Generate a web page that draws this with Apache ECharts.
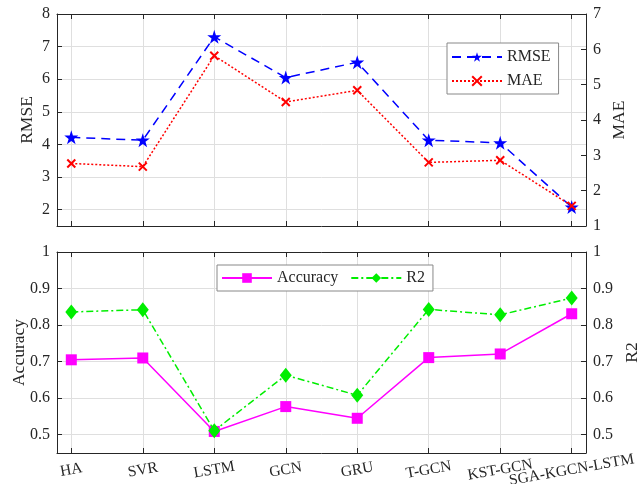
<!DOCTYPE html>
<html>
<head>
<meta charset="utf-8">
<script src="https://cdn.jsdelivr.net/npm/echarts@6/dist/echarts.min.js"></script>
<style>
  html, body { margin: 0; padding: 0; background: #fff; }
  #chart { width: 638px; height: 484px; }
</style>
</head>
<body>
<div id="chart"></div>
<script>
// Models compared
const models = ['HA', 'SVR', 'LSTM', 'GCN', 'GRU', 'T-GCN', 'KST-GCN', 'SGA-KGCN-LSTM'];

// Error metrics (upper panel)
const rmse = [4.22, 4.13, 7.30, 6.05, 6.52, 4.13, 4.05, 2.08];
const mae = [2.77, 2.68, 5.82, 4.51, 4.84, 2.80, 2.86, 1.57];

// Fit metrics (lower panel)
const accuracy = [0.705, 0.710, 0.509, 0.577, 0.545, 0.711, 0.721, 0.831];
const r2 = [0.836, 0.842, 0.511, 0.663, 0.608, 0.843, 0.828, 0.874];

// Tick values
const xTicks = [0, 1, 2, 3, 4, 5, 6, 7];
const rmseTicks = [2, 3, 4, 5, 6, 7, 8];
const ratioTicks = [0.5, 0.6, 0.7, 0.8, 0.9, 1];

const FONT = 'Liberation Serif';
const AXIS = '#262626';
const GRIDC = '#dfdfdf';
const STAR = 'path://M50,0 L61.2,34.5 L97.6,34.5 L68.2,55.9 L79.4,90.5 L50,69.1 L20.6,90.5 L31.8,55.9 L2.4,34.5 L38.8,34.5 Z';
const CROSS = 'path://M0,0 L10,10 M10,0 L0,10';

const pairs = arr => arr.map((v, i) => [i, v]);

function xAxisFor(gridIndex, pos, labelValues) {
  const withLabels = !!labelValues;
  return {
    type: 'value', gridIndex, position: pos, min: -0.2, max: 7.2,
    axisLine: { show: true, onZero: false, lineStyle: { color: AXIS, width: 1 } },
    axisTick: { show: true, inside: true, length: 5, customValues: xTicks, lineStyle: { color: AXIS } },
    axisLabel: withLabels ? {
      show: true, customValues: labelValues, rotate: 10, align: 'center', verticalAlign: 'middle',
      margin: 17, fontFamily: FONT, fontSize: 15.5, color: AXIS, hideOverlap: false,
      formatter: v => models[Math.round(v)] || ''
    } : { show: false },
    splitLine: { show: pos === 'bottom', lineStyle: { color: GRIDC, width: 1 } }
  };
}

function yAxisFor(gridIndex, pos, name, min, max, ticks, nameGap, split) {
  const ax = {
    type: 'value', gridIndex, position: pos, min, max,
    name, nameLocation: 'middle', nameGap, nameRotate: 90, nameMoveOverlap: false,
    nameTextStyle: { fontFamily: FONT, fontSize: 17.5, color: AXIS },
    axisLine: { show: true, onZero: false, lineStyle: { color: AXIS, width: 1 } },
    axisTick: { show: true, inside: true, length: 5, lineStyle: { color: AXIS } },
    axisLabel: { show: true, margin: 7, fontFamily: FONT, fontSize: 16, color: AXIS },
    splitLine: { show: split, lineStyle: { color: GRIDC, width: 1 } }
  };
  if (ticks) {
    ax.axisTick.customValues = ticks;
    ax.axisLabel.customValues = ticks;
  } else {
    ax.interval = 1;
  }
  return ax;
}

// The last model name overlaps its neighbour, so it sits on its own
// label-only axis to keep both names visible.
const lastLabelAxis = Object.assign(xAxisFor(1, 'bottom', [7]), {
  axisLine: { show: false, onZero: false },
  axisTick: { show: false },
  splitLine: { show: false }
});

const chart = echarts.init(document.getElementById('chart'), null, { renderer: 'canvas' });

chart.setOption({
  backgroundColor: '#fff',
  animation: false,
  grid: [
    { left: 57, top: 14, width: 529, height: 212, outerBoundsMode: 'none', containLabel: false },
    { left: 57, top: 252, width: 529, height: 201, outerBoundsMode: 'none', containLabel: false }
  ],
  xAxis: [
    xAxisFor(0, 'bottom', null),
    xAxisFor(0, 'top', null),
    xAxisFor(1, 'bottom', [0, 1, 2, 3, 4, 5, 6]),
    xAxisFor(1, 'top', null),
    lastLabelAxis
  ],
  yAxis: [
    yAxisFor(0, 'left', 'RMSE', 1.5, 8, rmseTicks, 21, true),
    yAxisFor(0, 'right', 'MAE', 1, 7, null, 24, false),
    yAxisFor(1, 'left', 'Accuracy', 0.45, 1, ratioTicks, 29, true),
    yAxisFor(1, 'right', 'R2', 0.45, 1, ratioTicks, 37, false)
  ],
  legend: [
    {
      data: ['RMSE', 'MAE'], orient: 'vertical', left: 447, top: 43,
      itemWidth: 50, itemHeight: 12, itemGap: 8, padding: [6, 8, 5, 4],
      borderColor: '#888', borderWidth: 1, backgroundColor: '#fff',
      textStyle: { fontFamily: FONT, fontSize: 16, color: AXIS }
    },
    {
      data: ['Accuracy', 'R2'], orient: 'horizontal', left: 217, top: 265,
      itemWidth: 50, itemHeight: 12, itemGap: 12, padding: [5, 8, 5, 4],
      borderColor: '#888', borderWidth: 1, backgroundColor: '#fff',
      textStyle: { fontFamily: FONT, fontSize: 16, color: AXIS }
    }
  ],
  series: [
    {
      name: 'RMSE', type: 'line', xAxisIndex: 0, yAxisIndex: 0, data: pairs(rmse),
      symbol: STAR, symbolSize: 14, z: 2,
      lineStyle: { color: '#0000ff', width: 1.5, type: [9, 6] },
      itemStyle: { color: '#0000ff', borderWidth: 0 }
    },
    {
      name: 'MAE', type: 'line', xAxisIndex: 0, yAxisIndex: 1, data: pairs(mae),
      symbol: CROSS, symbolSize: 8, z: 3,
      lineStyle: { color: '#ff0000', width: 1.5, type: [2, 2] },
      itemStyle: { color: '#ff0000', borderColor: '#ff0000', borderWidth: 2 }
    },
    {
      name: 'Accuracy', type: 'line', xAxisIndex: 2, yAxisIndex: 2, data: pairs(accuracy),
      symbol: 'rect', symbolSize: 11, z: 2,
      lineStyle: { color: '#ff00ff', width: 1.5, type: 'solid' },
      itemStyle: { color: '#ff00ff', borderWidth: 0 }
    },
    {
      name: 'R2', type: 'line', xAxisIndex: 2, yAxisIndex: 3, data: pairs(r2),
      symbol: 'diamond', symbolSize: [12, 15], z: 3,
      lineStyle: { color: '#00ee00', width: 1.5, type: [7, 3, 2, 3] },
      itemStyle: { color: '#00ee00', borderWidth: 0 }
    }
  ]
});
</script>
</body>
</html>
